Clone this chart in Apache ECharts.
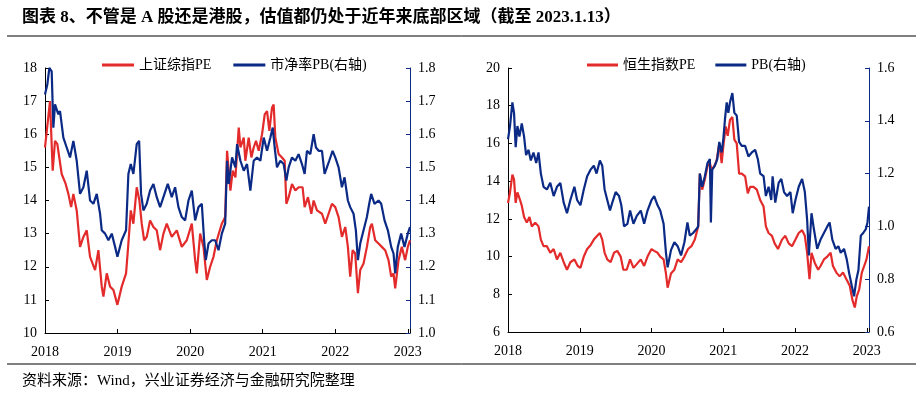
<!DOCTYPE html>
<html><head><meta charset="utf-8">
<script src="https://cdn.jsdelivr.net/npm/echarts@6/dist/echarts.min.js"></script>
<style>html,body{margin:0;padding:0;background:#fff}#c{width:922px;height:393px}</style>
</head><body><div id="c"></div>
<script>
// ---- data (x = decimal year) ----
const titleText = '图表 8、不管是 A 股还是港股，估值都仍处于近年来底部区域（截至 2023.1.13）';
const sourceText = '资料来源：Wind，兴业证券经济与金融研究院整理';
const yearTicks = [2018, 2019, 2020, 2021, 2022, 2023];

const shPeName = '上证综指PE';
const shPbName = '市净率PB(右轴)';
const hsPeName = '恒生指数PE';
const hsPbName = 'PB(右轴)';

const shPeX = [2018.000,2018.069,2018.106,2018.138,2018.170,2018.230,2018.285,2018.322,2018.360,2018.391,2018.437,2018.483,2018.529,2018.575,2018.621,2018.690,2018.736,2018.782,2018.805,2018.851,2018.897,2018.943,2018.998,2019.057,2019.117,2019.149,2019.182,2019.218,2019.264,2019.301,2019.333,2019.366,2019.402,2019.448,2019.494,2019.540,2019.586,2019.632,2019.678,2019.747,2019.816,2019.885,2019.954,2020.023,2020.069,2020.092,2020.138,2020.184,2020.230,2020.276,2020.322,2020.368,2020.437,2020.483,2020.509,2020.555,2020.587,2020.624,2020.670,2020.693,2020.739,2020.761,2020.807,2020.844,2020.876,2020.908,2020.945,2020.991,2021.028,2021.060,2021.092,2021.128,2021.151,2021.174,2021.220,2021.266,2021.303,2021.326,2021.358,2021.404,2021.450,2021.495,2021.550,2021.578,2021.624,2021.670,2021.702,2021.748,2021.817,2021.862,2021.908,2021.954,2022.000,2022.046,2022.092,2022.138,2022.174,2022.206,2022.239,2022.275,2022.312,2022.344,2022.390,2022.436,2022.482,2022.505,2022.550,2022.596,2022.642,2022.688,2022.734,2022.771,2022.803,2022.826,2022.872,2022.917,2022.963,2023.000,2023.030];
const shPeY = [15.6,17.0,14.9,15.8,15.7,14.8,14.5,14.2,13.8,14.2,13.7,12.6,12.9,13.1,12.3,11.9,12.5,11.4,11.1,11.8,11.4,11.3,10.85,11.4,11.8,12.7,13.7,13.3,14.4,14.0,13.3,12.8,12.9,13.4,13.2,13.1,12.5,13.0,13.3,12.9,13.1,12.6,12.8,13.3,12.2,11.8,13.0,12.6,11.6,12.0,12.3,12.8,13.3,13.5,15.5,14.3,14.9,14.7,16.2,15.6,15.9,15.2,15.9,15.3,15.6,15.8,15.5,16.0,16.6,16.7,16.1,16.8,16.9,15.9,15.4,15.3,15.2,13.9,14.1,14.5,14.3,14.4,14.4,13.8,14.1,13.6,14.0,13.7,13.6,13.3,13.6,13.9,13.8,13.5,12.9,13.2,12.6,11.7,12.5,12.4,11.2,11.9,12.1,12.6,13.2,13.3,12.8,12.7,12.6,12.5,12.2,11.7,11.8,11.35,12.2,12.6,12.2,12.6,12.8];

const shPbX = [2018.000,2018.032,2018.060,2018.092,2018.115,2018.138,2018.184,2018.207,2018.253,2018.299,2018.345,2018.391,2018.437,2018.483,2018.529,2018.575,2018.621,2018.667,2018.713,2018.759,2018.782,2018.828,2018.874,2018.920,2018.966,2018.998,2019.057,2019.117,2019.149,2019.182,2019.218,2019.264,2019.297,2019.324,2019.356,2019.402,2019.448,2019.494,2019.540,2019.586,2019.632,2019.692,2019.747,2019.793,2019.839,2019.885,2019.931,2019.977,2020.023,2020.069,2020.115,2020.161,2020.193,2020.216,2020.253,2020.299,2020.345,2020.391,2020.437,2020.483,2020.509,2020.532,2020.578,2020.624,2020.647,2020.693,2020.739,2020.784,2020.830,2020.876,2020.922,2020.968,2021.014,2021.060,2021.106,2021.138,2021.165,2021.197,2021.243,2021.289,2021.326,2021.358,2021.404,2021.450,2021.495,2021.541,2021.578,2021.610,2021.656,2021.702,2021.734,2021.771,2021.817,2021.853,2021.885,2021.917,2021.963,2022.000,2022.046,2022.092,2022.128,2022.174,2022.206,2022.252,2022.284,2022.312,2022.344,2022.390,2022.436,2022.468,2022.495,2022.541,2022.596,2022.633,2022.679,2022.725,2022.771,2022.803,2022.826,2022.862,2022.908,2022.954,2023.000,2023.030];
const shPbY = [1.72,1.75,1.80,1.79,1.62,1.69,1.66,1.67,1.59,1.56,1.53,1.58,1.52,1.42,1.44,1.49,1.40,1.39,1.42,1.36,1.31,1.30,1.28,1.30,1.26,1.23,1.28,1.31,1.48,1.51,1.48,1.57,1.58,1.42,1.37,1.39,1.43,1.45,1.41,1.38,1.41,1.45,1.41,1.44,1.38,1.35,1.34,1.40,1.43,1.34,1.38,1.39,1.28,1.22,1.27,1.28,1.28,1.25,1.30,1.33,1.52,1.45,1.53,1.50,1.57,1.52,1.49,1.51,1.43,1.52,1.53,1.52,1.59,1.55,1.59,1.62,1.56,1.50,1.52,1.51,1.46,1.50,1.53,1.52,1.54,1.51,1.48,1.55,1.54,1.60,1.56,1.55,1.55,1.48,1.50,1.52,1.55,1.53,1.50,1.44,1.47,1.40,1.38,1.36,1.31,1.22,1.27,1.31,1.35,1.39,1.42,1.39,1.40,1.39,1.34,1.31,1.26,1.24,1.18,1.26,1.30,1.26,1.30,1.32];

const hsPeX = [2018.000,2018.028,2018.061,2018.084,2018.107,2018.131,2018.168,2018.192,2018.224,2018.262,2018.299,2018.332,2018.379,2018.425,2018.458,2018.495,2018.542,2018.589,2018.636,2018.682,2018.729,2018.776,2018.822,2018.869,2018.925,2018.972,2019.009,2019.056,2019.103,2019.150,2019.196,2019.243,2019.280,2019.313,2019.346,2019.383,2019.430,2019.477,2019.523,2019.570,2019.607,2019.654,2019.701,2019.748,2019.794,2019.850,2019.897,2019.944,2020.000,2020.037,2020.084,2020.121,2020.168,2020.201,2020.224,2020.271,2020.318,2020.364,2020.411,2020.458,2020.509,2020.556,2020.603,2020.650,2020.673,2020.706,2020.743,2020.780,2020.813,2020.836,2020.874,2020.907,2020.944,2020.977,2021.000,2021.033,2021.061,2021.093,2021.126,2021.154,2021.187,2021.220,2021.257,2021.304,2021.341,2021.374,2021.421,2021.467,2021.514,2021.561,2021.593,2021.631,2021.678,2021.715,2021.762,2021.818,2021.864,2021.911,2021.958,2022.005,2022.051,2022.098,2022.136,2022.168,2022.201,2022.229,2022.276,2022.322,2022.355,2022.402,2022.449,2022.495,2022.528,2022.575,2022.621,2022.668,2022.715,2022.762,2022.799,2022.832,2022.860,2022.893,2022.930,2022.963,2022.995,2023.030];
const hsPeY = [12.84,13.4,14.35,14.1,12.85,13.4,13.0,12.7,12.1,11.8,12.1,11.6,11.8,11.6,10.9,10.55,10.55,10.2,10.4,9.85,10.2,9.7,9.3,9.7,9.85,9.5,9.4,10.0,10.4,10.6,10.9,11.1,11.25,10.9,10.2,9.85,9.7,10.2,10.3,10.0,9.3,9.3,9.85,9.4,9.6,9.85,9.5,10.0,10.4,10.3,10.2,10.0,9.85,9.1,8.35,9.1,9.3,9.85,9.7,10.0,10.4,10.55,10.9,11.6,14.4,13.55,14.1,14.8,14.95,14.6,14.8,15.1,16.0,14.95,15.85,16.9,16.4,17.25,17.4,16.2,16.0,14.4,14.4,14.25,13.35,13.7,13.7,13.55,13.0,12.65,11.6,11.25,11.1,10.7,10.4,10.9,11.1,10.7,10.55,10.9,11.25,11.4,11.1,10.2,8.8,10.2,9.65,9.3,9.5,9.85,10.0,10.2,9.5,9.15,8.95,9.15,8.8,8.45,7.7,7.3,7.9,8.25,9.15,9.5,9.85,10.55];

const hsPbX = [2018.000,2018.028,2018.061,2018.084,2018.107,2018.131,2018.159,2018.192,2018.224,2018.252,2018.285,2018.318,2018.355,2018.393,2018.425,2018.458,2018.495,2018.542,2018.589,2018.636,2018.682,2018.729,2018.776,2018.822,2018.869,2018.925,2018.963,2019.009,2019.056,2019.103,2019.150,2019.196,2019.234,2019.280,2019.313,2019.346,2019.383,2019.421,2019.453,2019.500,2019.547,2019.579,2019.617,2019.664,2019.701,2019.748,2019.794,2019.850,2019.897,2019.944,2020.000,2020.037,2020.084,2020.121,2020.168,2020.201,2020.224,2020.271,2020.318,2020.364,2020.411,2020.458,2020.500,2020.533,2020.579,2020.626,2020.650,2020.673,2020.706,2020.743,2020.780,2020.813,2020.827,2020.846,2020.883,2020.916,2020.944,2020.977,2021.000,2021.023,2021.047,2021.070,2021.093,2021.126,2021.154,2021.187,2021.220,2021.257,2021.304,2021.350,2021.397,2021.444,2021.481,2021.514,2021.561,2021.593,2021.631,2021.668,2021.687,2021.724,2021.771,2021.808,2021.846,2021.888,2021.935,2021.967,2022.005,2022.051,2022.098,2022.136,2022.168,2022.192,2022.229,2022.262,2022.308,2022.355,2022.402,2022.449,2022.481,2022.519,2022.565,2022.603,2022.636,2022.682,2022.720,2022.752,2022.790,2022.822,2022.855,2022.883,2022.916,2022.949,2022.986,2023.009,2023.030];
const hsPbY = [1.33,1.38,1.47,1.43,1.30,1.38,1.34,1.39,1.34,1.27,1.29,1.25,1.28,1.24,1.28,1.20,1.15,1.14,1.165,1.115,1.15,1.165,1.09,1.05,1.10,1.15,1.10,1.08,1.14,1.19,1.215,1.23,1.20,1.25,1.23,1.14,1.10,1.06,1.09,1.13,1.115,1.08,1.00,1.01,1.06,1.01,1.04,1.06,1.01,1.06,1.10,1.115,1.08,1.06,1.01,0.90,0.845,0.91,0.94,0.925,0.89,0.94,1.015,0.965,0.975,0.99,1.00,1.20,1.15,1.19,1.24,1.255,1.015,1.215,1.23,1.255,1.32,1.28,1.33,1.405,1.47,1.43,1.47,1.505,1.43,1.42,1.32,1.305,1.305,1.265,1.28,1.29,1.255,1.20,1.19,1.115,1.15,1.10,1.19,1.09,1.165,1.18,1.13,1.115,1.13,1.05,1.10,1.15,1.18,1.13,1.025,0.89,1.05,0.99,0.915,0.95,0.975,1.00,1.015,0.95,0.915,0.925,0.90,0.915,0.875,0.825,0.775,0.735,0.80,0.835,0.965,0.975,0.99,1.015,1.075];

// ---- build ----
const zip = (xs, ys) => xs.map((x, i) => [x, ys[i]]);
const RED = '#e32b2b', BLUE = '#0b2a85';
const FONT = "'Liberation Serif', 'Noto Sans CJK SC', serif";
const lbl = { color: '#000', fontSize: 14, fontFamily: FONT };

function xAxisCfg(gi) {
  return {
    type: 'value', gridIndex: gi, min: yearTicks[0], max: 2023.03, interval: 1,
    axisLine: { lineStyle: { color: '#000', width: 1 } },
    axisTick: { inside: true, length: 4, lineStyle: { color: '#000' } },
    axisLabel: Object.assign({ margin: 12, formatter: v => (Math.abs(v - Math.round(v)) < 1e-6 ? String(Math.round(v)) : '') }, lbl),
    splitLine: { show: false }
  };
}
function yAxisCfg(gi, pos, min, max, interval, color, dec) {
  return {
    type: 'value', gridIndex: gi, position: pos, min, max, interval,
    axisLine: { show: true, lineStyle: { color, width: 1 } },
    axisTick: { show: true, inside: true, length: 4, lineStyle: { color } },
    axisLabel: Object.assign({ margin: 8, formatter: v => v.toFixed(dec) }, lbl),
    splitLine: { show: false }
  };
}

const chart = echarts.init(document.getElementById('c'), null, { renderer: 'canvas' });
chart.setOption({
  animation: false,
  backgroundColor: '#fff',
  title: [{ text: titleText, left: 17, top: 4, textStyle: { fontSize: 17, fontWeight: 'bold', fontFamily: FONT, color: '#000' } },
          { text: sourceText, left: 17, top: 369, textStyle: { fontSize: 15, fontWeight: 'normal', fontFamily: FONT, color: '#000' } }],
  graphic: [
    { type: 'line', shape: { x1: 7, y1: 36, x2: 916, y2: 36 }, style: { stroke: '#000', lineWidth: 1 } },
    { type: 'line', shape: { x1: 7, y1: 364, x2: 916, y2: 364 }, style: { stroke: '#000', lineWidth: 1 } }
  ],
  legend: [
    { data: [shPeName, shPbName], left: 97, top: 53, itemWidth: 32, itemHeight: 3, itemGap: 22, icon: 'rect', textStyle: { fontSize: 14, fontFamily: FONT, color: '#000' } },
    { data: [hsPeName, hsPbName], left: 582, top: 53, itemWidth: 31, itemHeight: 3, itemGap: 20, icon: 'rect', textStyle: { fontSize: 14, fontFamily: FONT, color: '#000' } }
  ],
  grid: [
    { left: 45, top: 68, width: 365, height: 265 },
    { left: 508, top: 68, width: 361, height: 264 }
  ],
  xAxis: [xAxisCfg(0), xAxisCfg(1)],
  yAxis: [
    yAxisCfg(0, 'left', 10, 18, 1, '#000', 0),
    yAxisCfg(0, 'right', 1.0, 1.8, 0.1, BLUE, 1),
    yAxisCfg(1, 'left', 6, 20, 2, '#000', 0),
    yAxisCfg(1, 'right', 0.6, 1.6, 0.2, BLUE, 1)
  ],
  series: [
    { name: shPeName, type: 'line', xAxisIndex: 0, yAxisIndex: 0, data: zip(shPeX, shPeY), symbol: 'none', lineStyle: { color: RED, width: 2.2 }, itemStyle: { color: RED } },
    { name: shPbName, type: 'line', xAxisIndex: 0, yAxisIndex: 1, data: zip(shPbX, shPbY), symbol: 'none', lineStyle: { color: BLUE, width: 2.2 }, itemStyle: { color: BLUE } },
    { name: hsPeName, type: 'line', xAxisIndex: 1, yAxisIndex: 2, data: zip(hsPeX, hsPeY), symbol: 'none', lineStyle: { color: RED, width: 2.2 }, itemStyle: { color: RED } },
    { name: hsPbName, type: 'line', xAxisIndex: 1, yAxisIndex: 3, data: zip(hsPbX, hsPbY), symbol: 'none', lineStyle: { color: BLUE, width: 2.2 }, itemStyle: { color: BLUE } }
  ]
});
</script></body></html>
